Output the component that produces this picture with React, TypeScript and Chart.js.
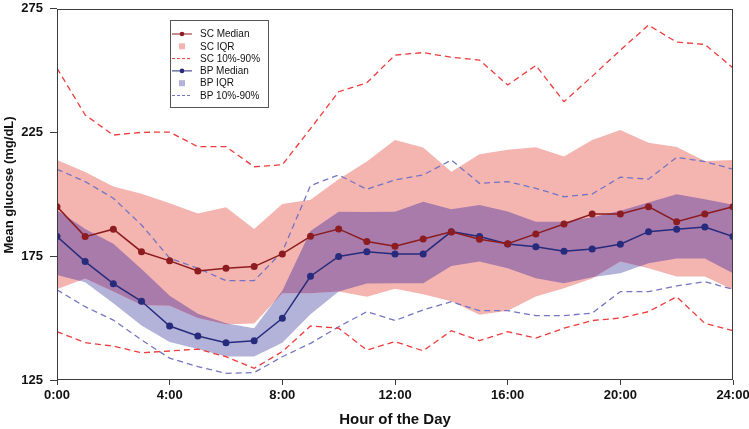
import React, { useEffect, useRef } from 'react';
import { Chart, registerables } from 'chart.js';

Chart.register(...registerables);

// ---- Data (hour of day, mg/dL) ----
const hours = [0, 1, 2, 3, 4, 5, 6, 7, 8, 9, 10, 11, 12, 13, 14, 15, 16, 17, 18, 19, 20, 21, 22, 23, 24];
const xTickHours = [0, 4, 8, 12, 16, 20, 24];
const yTicks = [125, 175, 225, 275];

const scMedian = [195.0, 182.9, 185.9, 176.8, 173.1, 169.0, 170.1, 170.8, 175.9, 183.0, 186.0, 180.9, 179.0, 181.9, 184.8, 181.8, 180.0, 184.0, 188.0, 192.0, 192.0, 195.0, 188.9, 192.0, 195.0];
const bpMedian = [182.9, 172.8, 163.9, 156.8, 146.8, 142.8, 140.0, 140.8, 149.9, 166.9, 174.9, 176.8, 175.9, 175.9, 184.9, 182.9, 179.9, 178.8, 177.0, 177.9, 179.8, 184.9, 185.9, 186.8, 182.9];

const scIqrUpper = [213.8, 209.0, 203.1, 200.2, 196.4, 192.2, 194.8, 186.0, 196.1, 197.8, 206.1, 213.2, 221.9, 218.9, 209.1, 216.2, 218.0, 219.0, 215.2, 221.9, 225.9, 220.8, 219.1, 213.4, 213.8];
const scIqrLower = [161.6, 166.0, 160.7, 155.3, 155.0, 150.0, 147.5, 147.8, 160.0, 160.0, 160.7, 158.6, 161.8, 159.6, 156.8, 151.3, 153.0, 158.7, 162.0, 166.0, 172.8, 170.1, 166.8, 166.8, 161.4];
const bpIqrUpper = [193.5, 186.0, 180.0, 169.8, 159.0, 151.7, 147.9, 145.9, 161.0, 185.2, 192.9, 192.8, 192.9, 197.0, 193.9, 195.7, 193.0, 188.9, 188.9, 190.7, 193.3, 196.7, 200.0, 198.0, 195.8];
const bpIqrLower = [167.4, 164.5, 156.0, 147.0, 140.3, 137.5, 134.5, 134.5, 140.0, 151.5, 160.7, 164.0, 164.1, 164.1, 171.0, 172.8, 170.1, 166.1, 164.1, 166.5, 168.1, 172.1, 174.1, 174.1, 168.1];

const sc90 = [250.9, 232.0, 223.9, 225.0, 225.1, 219.2, 219.2, 211.1, 211.9, 226.5, 241.4, 245.0, 256.2, 257.2, 255.3, 254.2, 244.1, 252.0, 237.4, 247.6, 258.2, 268.3, 261.4, 260.5, 251.0];
const sc10 = [144.5, 140.1, 138.7, 136.0, 136.7, 137.5, 134.4, 129.7, 136.5, 146.8, 145.9, 137.1, 140.5, 136.8, 144.9, 140.9, 144.5, 141.9, 145.9, 149.0, 150.0, 152.6, 158.6, 147.9, 144.9];
const bp90 = [210.1, 205.1, 198.4, 187.6, 174.2, 170.1, 165.1, 165.1, 176.8, 203.5, 207.8, 202.0, 205.8, 207.8, 213.8, 204.4, 205.1, 202.4, 199.0, 200.1, 206.9, 206.1, 214.9, 213.2, 210.1];
const bp10 = [161.4, 154.6, 149.2, 141.2, 133.8, 130.4, 127.7, 128.0, 134.4, 139.8, 146.5, 152.6, 149.0, 153.3, 156.6, 153.0, 153.0, 151.0, 151.0, 152.0, 160.7, 160.7, 163.0, 164.7, 161.6];

const legendLabels = ['SC Median', 'SC IQR', 'SC 10%-90%', 'BP Median', 'BP IQR', 'BP 10%-90%'];

// ---- Styles ----
const SC_DARK = '#8c1c1f';
const BP_DARK = '#272b7c';
const SC_DASH = '#ee3b3b';
const BP_DASH = '#7474c4';
const SC_BAND = '#f4b4b0';
const BP_BAND = '#b3b3d9';
const OVERLAP = '#a87bab';
const AXIS = '#3c3c3c';
const FONT = "'Liberation Sans', Arial, Helvetica, sans-serif";

const pts = (arr: number[]) => arr.map((y, i) => ({ x: hours[i], y }));

// Overlap of the two IQR bands (derived from the IQR arrays, exact for piecewise-linear edges)
function lerpAt(arr: number[], x: number) {
  const i = Math.min(Math.floor(x), arr.length - 2);
  const t = x - i;
  return arr[i] * (1 - t) + arr[i + 1] * t;
}
function crossX(f: (x: number) => number, g: (x: number) => number, a: number, b: number) {
  const da = f(a) - g(a);
  const db = f(b) - g(b);
  if (da * db < 0) return a + (b - a) * (da / (da - db));
  return null;
}
function overlapBand() {
  const U = (x: number) => Math.min(lerpAt(scIqrUpper, x), lerpAt(bpIqrUpper, x));
  const L = (x: number) => Math.max(lerpAt(scIqrLower, x), lerpAt(bpIqrLower, x));
  const xs: number[] = [];
  for (let i = 0; i < hours.length - 1; i++) {
    const seg = [i, i + 1];
    const c1 = crossX((x) => lerpAt(scIqrUpper, x), (x) => lerpAt(bpIqrUpper, x), i, i + 1);
    const c2 = crossX((x) => lerpAt(scIqrLower, x), (x) => lerpAt(bpIqrLower, x), i, i + 1);
    if (c1 !== null) seg.push(c1);
    if (c2 !== null) seg.push(c2);
    seg.sort((p, q) => p - q);
    const full = [...seg];
    for (let k = 0; k < seg.length - 1; k++) {
      const c3 = crossX(U, L, seg[k], seg[k + 1]);
      if (c3 !== null) full.push(c3);
    }
    full.sort((p, q) => p - q);
    full.forEach((x) => {
      if (i > 0 && x === i) return;
      xs.push(x);
    });
  }
  const low = xs.map((x) => ({ x, y: L(x) }));
  const high = xs.map((x) => ({ x, y: Math.max(U(x), L(x)) }));
  return { low, high };
}

export default function App() {
  const ref = useRef<HTMLCanvasElement>(null);

  useEffect(() => {
    const canvas = ref.current;
    if (!canvas) return;

    const ov = overlapBand();

    const decorPlugin = {
      id: 'decor',
      afterDraw(chart: any) {
        const ctx: CanvasRenderingContext2D = chart.ctx;
        const a = chart.chartArea;
        ctx.save();
        // frame
        ctx.strokeStyle = AXIS;
        ctx.lineWidth = 1;
        const l = Math.round(a.left) + 0.5;
        const r = Math.round(a.right) - 0.5;
        const t = Math.round(a.top) + 0.5;
        const b = Math.round(a.bottom) - 0.5;
        ctx.strokeRect(l, t, r - l, b - t);

        // axis titles
        ctx.fillStyle = '#111';
        ctx.font = `bold 15px ${FONT}`;
        ctx.textAlign = 'center';
        ctx.textBaseline = 'middle';
        ctx.fillText('Hour of the Day', (a.left + a.right) / 2, 420);

        ctx.save();
        ctx.translate(9, 185);
        ctx.rotate(-Math.PI / 2);
        ctx.font = `bold 13px ${FONT}`;
        ctx.fillText('Mean glucose (mg/dL)', 0, 0);
        ctx.restore();

        // legend
        const lx = 170, ly = 20, lw = 98, lh = 87;
        ctx.fillStyle = '#ffffff';
        ctx.fillRect(lx, ly, lw, lh);
        ctx.strokeStyle = '#555';
        ctx.lineWidth = 1;
        ctx.strokeRect(lx + 0.5, ly + 0.5, lw, lh);
        ctx.font = `10px ${FONT}`;
        ctx.textAlign = 'left';
        ctx.textBaseline = 'middle';
        const kinds = ['median', 'band', 'dash', 'median', 'band', 'dash'];
        const cols = [SC_DARK, SC_BAND, SC_DASH, BP_DARK, BP_BAND, BP_DASH];
        legendLabels.forEach((label, i) => {
          const y = 34 + i * 12.3;
          const k = kinds[i];
          const c = cols[i];
          if (k === 'median') {
            ctx.strokeStyle = c;
            ctx.lineWidth = 1;
            ctx.setLineDash([]);
            ctx.beginPath();
            ctx.moveTo(172, y);
            ctx.lineTo(192, y);
            ctx.stroke();
            ctx.fillStyle = c;
            ctx.beginPath();
            ctx.arc(182, y, 2.3, 0, Math.PI * 2);
            ctx.fill();
          } else if (k === 'band') {
            ctx.fillStyle = c;
            ctx.fillRect(179, y - 3, 6, 6);
          } else {
            ctx.strokeStyle = c;
            ctx.lineWidth = 1;
            ctx.setLineDash([3, 2]);
            ctx.beginPath();
            ctx.moveTo(172, y);
            ctx.lineTo(192, y);
            ctx.stroke();
            ctx.setLineDash([]);
          }
          ctx.fillStyle = '#111';
          ctx.fillText(label, 200, y + 0.5);
        });
        ctx.restore();
      },
    };

    const lineDs = (label: string, arr: number[], color: string, dashed: boolean) => ({
      label,
      data: pts(arr),
      borderColor: color,
      backgroundColor: color,
      borderWidth: dashed ? 1.3 : 1.5,
      borderDash: dashed ? [6, 4] : [],
      pointRadius: dashed ? 0 : 3.5,
      pointBorderWidth: 0,
      pointBackgroundColor: color,
      fill: false,
      tension: 0,
    });

    const bandDs = (label: string, data: any[], color: string, fill: any) => ({
      label,
      data,
      borderColor: color,
      borderWidth: 0,
      backgroundColor: color,
      pointRadius: 0,
      fill,
      tension: 0,
    });

    const chart = new Chart(canvas, {
      type: 'line',
      data: {
        datasets: [
          lineDs('SC Median', scMedian, SC_DARK, false),
          lineDs('BP Median', bpMedian, BP_DARK, false),
          lineDs('SC 90%', sc90, SC_DASH, true),
          lineDs('SC 10%', sc10, SC_DASH, true),
          lineDs('BP 90%', bp90, BP_DASH, true),
          lineDs('BP 10%', bp10, BP_DASH, true),
          bandDs('Overlap low', ov.low, OVERLAP, false),
          bandDs('Overlap', ov.high, OVERLAP, '-1'),
          bandDs('SC IQR low', pts(scIqrLower), SC_BAND, false),
          bandDs('SC IQR', pts(scIqrUpper), SC_BAND, '-1'),
          bandDs('BP IQR low', pts(bpIqrLower), BP_BAND, false),
          bandDs('BP IQR', pts(bpIqrUpper), BP_BAND, '-1'),
        ] as any,
      },
      options: {
        animation: false,
        responsive: false,
        maintainAspectRatio: false,
        devicePixelRatio: 1,
        layout: { padding: { left: 0, right: 16, top: 8.5, bottom: 0 } },
        plugins: {
          legend: { display: false },
          tooltip: { enabled: false },
          filler: { drawTime: 'beforeDatasetsDraw', propagate: false },
        } as any,
        scales: {
          x: {
            type: 'linear',
            min: 0,
            max: 24,
            afterBuildTicks: (s: any) => {
              s.ticks = xTickHours.map((v) => ({ value: v }));
            },
            ticks: {
              autoSkip: false,
              maxRotation: 0,
              padding: 3,
              color: '#111',
              font: { family: FONT, size: 13, weight: 'bold' },
              callback: (v: any) => `${v}:00`,
            },
            grid: { display: true, drawOnChartArea: false, drawTicks: true, tickLength: 5, color: AXIS, lineWidth: 1 },
            border: { display: false },
            afterFit: (s: any) => {
              s.height = 49;
              s.paddingLeft = 0;
              s.paddingRight = 0;
            },
          },
          y: {
            type: 'linear',
            min: 125,
            max: 275,
            afterBuildTicks: (s: any) => {
              s.ticks = yTicks.map((v) => ({ value: v }));
            },
            ticks: {
              padding: 7,
              color: '#111',
              font: { family: FONT, size: 13, weight: 'bold' },
            },
            grid: { display: true, drawOnChartArea: false, drawTicks: true, tickLength: 7, color: AXIS, lineWidth: 1 },
            border: { display: false },
            afterFit: (s: any) => {
              s.width = 57;
              s.paddingTop = 0;
              s.paddingBottom = 0;
            },
          },
        } as any,
      },
      plugins: [decorPlugin],
    });

    return () => chart.destroy();
  }, []);

  return (
    <div style={{ position: 'fixed', left: 0, top: 0, width: 749, height: 429, background: '#ffffff' }}>
      <canvas ref={ref} width={749} height={429} style={{ display: 'block', width: 749, height: 429 }} />
    </div>
  );
}
